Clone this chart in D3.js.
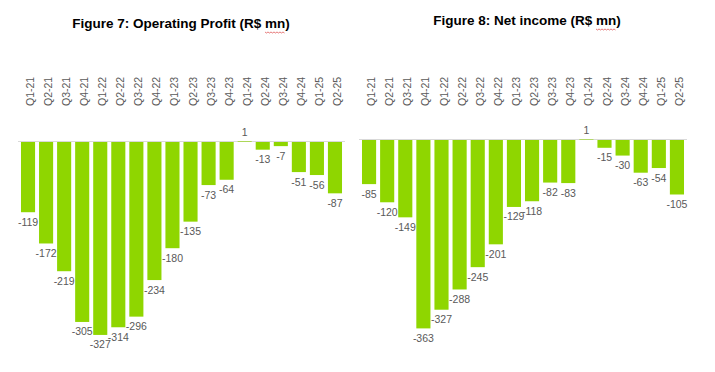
<!DOCTYPE html>
<html>
<head>
<meta charset="utf-8">
<script src="https://cdn.jsdelivr.net/npm/d3@7"></script>
<style>
  html, body { margin: 0; padding: 0; background: #fff; }
  svg { display: block; }
  text { font-family: Arial, "Liberation Sans", sans-serif; }
</style>
</head>
<body>
<svg id="chart" width="715" height="372"></svg>
<script>
const categories = ["Q1-21","Q2-21","Q3-21","Q4-21","Q1-22","Q2-22","Q3-22","Q4-22","Q1-23","Q2-23","Q3-23","Q4-23","Q1-24","Q2-24","Q3-24","Q4-24","Q1-25","Q2-25"];
const operatingProfit = [-119,-172,-219,-305,-327,-314,-296,-234,-180,-135,-73,-64,1,-13,-7,-51,-56,-87];
const netIncome = [-85,-120,-149,-363,-327,-288,-245,-201,-129,-118,-82,-83,1,-15,-30,-63,-54,-105];
const titles = ["Figure 7: Operating Profit (R$ mn)", "Figure 8: Net income (R$ mn)"];

const svg = d3.select("#chart");
const GREEN = "#8fd600";
const LABEL = "#595959";

function drawChart(cfg) {
  const g = svg.append("g");
  const x = d3.scaleBand().domain(categories).range([cfg.x0, cfg.x1]).paddingInner(0.22).paddingOuter(0.11);
  const y = d3.scaleLinear().domain([cfg.ymin, 0]).range([cfg.yBottom, cfg.yZero]);

  // title
  const t = g.append("text")
    .attr("x", cfg.titleX).attr("y", cfg.titleY)
    .attr("text-anchor", "middle")
    .style("font-weight", "bold").style("font-size", "13.5px").attr("fill", "#000")
    .text(cfg.title);
  // spell-check squiggle under "mn"
  const node = t.node();
  const idx = cfg.title.indexOf("mn");
  const start = node.getStartPositionOfChar(idx).x;
  const end = node.getEndPositionOfChar(idx + 1).x;
  let p = "";
  for (let xx = start, k = 0; xx <= end; xx += 1.5, k++) {
    p += (k === 0 ? "M" : "L") + xx + "," + (cfg.titleY + 4.5 + (k % 2 ? 1 : 0));
  }
  g.append("path").attr("d", p).attr("fill", "none").attr("stroke", "#e05a5a").attr("stroke-width", 0.8);

  // category labels (rotated)
  g.selectAll(".cat").data(categories).join("text")
    .attr("class", "cat")
    .attr("transform", d => `translate(${x(d) + x.bandwidth() / 2 + 2},${cfg.catY}) rotate(-90)`)
    .attr("text-anchor", "start").attr("dominant-baseline", "central")
    .style("font-size", "10.5px").attr("fill", LABEL)
    .text(d => d);

  // baseline
  g.append("line")
    .attr("x1", cfg.x0 - 1).attr("x2", cfg.x1 + 1)
    .attr("y1", y(0) - 0.5).attr("y2", y(0) - 0.5)
    .attr("stroke", "#d9d9d9").attr("stroke-width", 1);

  // bars
  g.selectAll(".bar").data(cfg.values).join("rect")
    .attr("class", "bar")
    .attr("x", (d, i) => x(categories[i]))
    .attr("width", x.bandwidth())
    .attr("y", d => y(Math.max(0, d)))
    .attr("height", d => Math.abs(y(d) - y(0)))
    .attr("fill", GREEN);

  // value labels
  g.selectAll(".val").data(cfg.values).join("text")
    .attr("class", "val")
    .attr("x", (d, i) => x(categories[i]) + x.bandwidth() / 2)
    .attr("y", d => d < 0 ? y(d) + 13.5 : y(d) - 5.5)
    .attr("text-anchor", "middle")
    .style("font-size", "10.5px").attr("fill", LABEL)
    .text(d => d);
}

drawChart({
  title: titles[0], titleX: 181, titleY: 27.5,
  values: operatingProfit,
  x0: 19, x1: 344,
  yZero: 142, ymin: -350, yBottom: 142 + 350 * 0.59,
  catY: 106
});

drawChart({
  title: titles[1], titleX: 527, titleY: 24.5,
  values: netIncome,
  x0: 360, x1: 686,
  yZero: 140, ymin: -400, yBottom: 140 + 400 * 0.519,
  catY: 106
});
</script>
</body>
</html>
